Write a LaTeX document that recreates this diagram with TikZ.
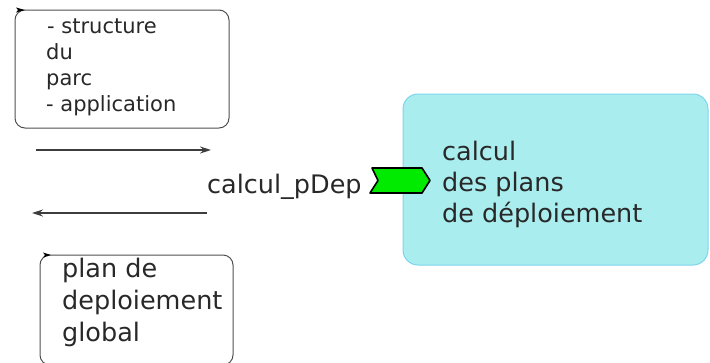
\documentclass[tikz,border=0pt]{standalone}
\usepackage{fontspec}
\setmainfont{DejaVu Sans}
\usetikzlibrary{arrows.meta}
\definecolor{txt}{RGB}{40,40,40}
\definecolor{boxline}{RGB}{80,80,80}
\definecolor{cyanfill}{RGB}{170,237,238}
\definecolor{cyanline}{RGB}{125,212,238}
\definecolor{portgreen}{RGB}{0,235,0}
\tikzset{
  x=1pt, y=-1pt,
  msgbox/.style={draw=boxline, line width=1pt, rounded corners=10pt, inner sep=0pt},
  procbox/.style={draw=cyanline, fill=cyanfill, line width=1pt, rounded corners=15pt, inner sep=0pt},
  smalltxt/.style={anchor=base west, inner sep=0pt, text=txt, font=\fontsize{21}{26}\selectfont},
  bigtxt/.style={anchor=base west, inner sep=0pt, text=txt, font=\fontsize{25.5}{31}\selectfont},
  flow/.style={draw=txt!90, line width=1.2pt, -{Stealth[length=11pt,width=7pt]}},
  tick/.style={fill=black}
}
\begin{document}
\begin{tikzpicture}
\useasboundingbox (0,0) rectangle (710,362);
% top box
\node[msgbox, minimum width=214pt, minimum height=118pt] (top) at (122,69) {};
\node[smalltxt] (t1) at (47,33) {- structure};
\node[smalltxt] (t2) at (46,59) {du};
\node[smalltxt] (t3) at (46,85) {parc};
\node[smalltxt] (t4) at (46,111) {- application};
\fill[tick] (16,7.5) -- (25,10) -- (16,12.5) -- (18,10) -- cycle;
% bottom box
\node[msgbox, minimum width=193pt, minimum height=110pt] (bot) at (136.5,310) {};
\node[bigtxt] (b1) at (62,277) {plan de};
\node[bigtxt] (b2) at (62,309) {deploiement};
\node[bigtxt] (b3) at (62,341) {global};
\fill[tick] (43,252.5) -- (51,255) -- (43,257.5) -- (45,255) -- cycle;
% arrows
\coordinate (a1s) at (36,150);
\coordinate (a1e) at (211,150);
\coordinate (a2s) at (207,213);
\coordinate (a2e) at (32,213);
\draw[flow] (a1s) -- (a1e);
\draw[flow] (a2s) -- (a2e);
% process box
\node[procbox, minimum width=305pt, minimum height=171pt] (proc) at (555.5,179.5) {};
\node[bigtxt] (p1) at (442,160) {calcul};
\node[bigtxt] (p2) at (442,191) {des plans};
\node[bigtxt] (p3) at (442,222) {de déploiement};
% port
\node[bigtxt] (lbl) at (207,193) {calcul\_pDep};
\draw[fill=portgreen, draw=black, line width=1.6pt, line join=round] (372,168) -- (422,168) -- (430,180.5) -- (422,193) -- (370,193) -- (378,180.5) -- cycle;
\end{tikzpicture}
\end{document}
